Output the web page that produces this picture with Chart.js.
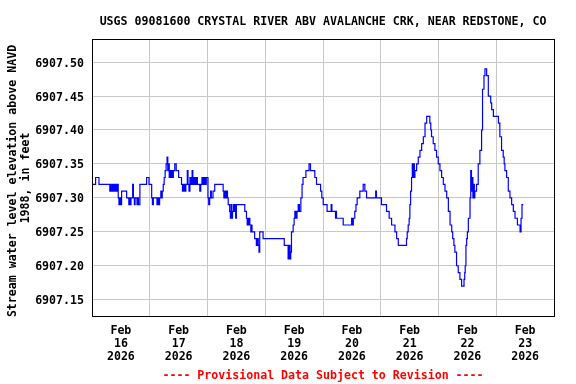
<!DOCTYPE html>
<html>
<head>
<meta charset="utf-8">
<script src="https://cdn.jsdelivr.net/npm/chart.js@4"></script>
<style>
  html, body { margin: 0; padding: 0; background: #ffffff; }
  #wrap { width: 576px; height: 384px; }
</style>
</head>
<body>
<div id="wrap"><canvas id="c" width="576" height="384"></canvas></div>
<script>
// ---- data (hours since Feb 16 2026 00:00, gage elevation in ft) ----
const hours = [
  0, 1.5, 2.9, 7.4, 7.8, 8.3, 8.7, 9.2, 9.6, 10.0, 10.4, 10.9, 11.2, 11.7, 12.0, 12.3,
  14.4, 15.3, 15.6, 15.9, 16.2, 16.9, 17.2, 17.6, 17.9, 18.7, 19.0, 19.3, 19.9, 22.7, 23.7,
  24.8, 25.1, 25.5, 27.0, 27.3, 27.8, 28.1, 28.6, 28.9, 29.2, 29.6, 30.0, 30.4, 30.8, 31.2,
  31.5, 31.8, 32.1, 32.4, 32.7, 33.0, 33.4, 33.8, 34.4, 35.0, 36.0, 37.2, 37.6, 38.0, 38.5,
  39.0, 39.6, 39.9, 40.3, 40.7, 41.1, 41.6, 41.9, 42.3, 42.8, 43.3, 43.8, 44.8, 45.2, 45.7,
  46.2, 46.6, 47.0, 47.5, 48.2, 48.5, 48.9, 49.3, 49.6, 50.3, 51.0, 54.5, 54.8, 55.2, 55.5,
  56.0, 56.3, 56.6, 57.2, 57.5, 57.8, 58.1, 58.4, 58.8, 59.1, 59.4, 59.7, 60.0, 63.5, 64.2,
  64.5, 64.8, 65.1, 65.3, 65.6, 66.0, 66.3, 66.5, 67.6, 68.3, 68.7, 69.1, 69.4, 69.7, 71.1,
  79.9, 81.5, 81.9, 82.3, 82.6, 82.9, 83.6, 84.0, 84.3, 84.8, 85.2, 85.7, 86.2, 86.8, 87.3,
  87.7, 88.9, 90.2, 90.8, 92.6, 93.3, 95.0, 95.5, 96.1, 97.7, 99.4, 99.7, 101.2, 101.4, 101.6,
  104.4, 107.9, 108.2, 108.6, 109.2, 109.7, 110.2, 111.3, 112.7, 113.4, 114.1, 117.9, 118.2,
  120.3, 122.4, 123.5, 124.5, 125.9, 126.6, 127.3, 130.7, 131.0, 131.4, 131.8, 132.1, 132.4,
  132.8, 133.1, 133.5, 133.8, 134.0, 134.2, 134.9, 135.6, 136.3, 137.0, 137.7, 138.4, 139.1,
  140.4, 140.8, 141.1, 141.8, 142.5, 143.2, 143.9, 144.6, 145.3, 146.0, 146.7, 147.4, 148.1,
  148.8, 149.5, 149.9, 150.4, 150.8, 151.5, 152.2, 152.9, 153.6, 154.6, 154.9, 155.1, 155.4,
  155.7, 156.0, 156.4, 157.1, 157.4, 157.7, 158.0, 158.3, 158.6, 158.9, 159.1, 159.8, 160.5,
  161.2, 161.9, 162.3, 162.9, 163.3, 164.0, 164.7, 165.7, 166.1, 166.8, 168.9, 169.5, 170.2,
  170.9, 171.3, 171.6, 172.3, 173.0, 173.7, 174.4, 175.1, 175.8, 176.8, 177.9, 178.3, 178.7,
  179.2
];
const elevation = [
  6907.32, 6907.33, 6907.32, 6907.31, 6907.32, 6907.31, 6907.32, 6907.31, 6907.32, 6907.31, 6907.32, 6907.30, 6907.29, 6907.30, 6907.29, 6907.31,
  6907.30, 6907.29, 6907.30, 6907.29, 6907.30, 6907.32, 6907.30, 6907.29, 6907.30, 6907.29, 6907.30, 6907.29, 6907.32, 6907.33, 6907.32,
  6907.30, 6907.29, 6907.30, 6907.29, 6907.30, 6907.29, 6907.30, 6907.31, 6907.30, 6907.31, 6907.32, 6907.33, 6907.34, 6907.35, 6907.36,
  6907.34, 6907.35, 6907.33, 6907.34, 6907.33, 6907.34, 6907.33, 6907.34, 6907.35, 6907.34, 6907.33, 6907.32, 6907.31, 6907.32, 6907.31,
  6907.32, 6907.34, 6907.32, 6907.31, 6907.33, 6907.32, 6907.34, 6907.32, 6907.33, 6907.32, 6907.33, 6907.32, 6907.31, 6907.32, 6907.33,
  6907.32, 6907.33, 6907.32, 6907.33, 6907.30, 6907.29, 6907.30, 6907.31, 6907.30, 6907.31, 6907.32, 6907.31, 6907.30, 6907.31, 6907.30,
  6907.31, 6907.30, 6907.29, 6907.28, 6907.27, 6907.29, 6907.27, 6907.28, 6907.29, 6907.28, 6907.29, 6907.27, 6907.29, 6907.28, 6907.27,
  6907.26, 6907.27, 6907.26, 6907.27, 6907.26, 6907.25, 6907.26, 6907.25, 6907.24, 6907.23, 6907.24, 6907.23, 6907.22, 6907.25, 6907.24,
  6907.23, 6907.21, 6907.23, 6907.21, 6907.22, 6907.25, 6907.26, 6907.27, 6907.28, 6907.27, 6907.28, 6907.29, 6907.28, 6907.30, 6907.32,
  6907.33, 6907.34, 6907.35, 6907.34, 6907.33, 6907.32, 6907.31, 6907.30, 6907.29, 6907.28, 6907.29, 6907.28, 6907.27, 6907.28, 6907.27,
  6907.26, 6907.27, 6907.26, 6907.27, 6907.28, 6907.29, 6907.30, 6907.31, 6907.32, 6907.31, 6907.30, 6907.31, 6907.30,
  6907.29, 6907.28, 6907.27, 6907.26, 6907.25, 6907.24, 6907.23, 6907.24, 6907.25, 6907.26, 6907.27, 6907.29, 6907.31,
  6907.33, 6907.35, 6907.33, 6907.35, 6907.33, 6907.34, 6907.35, 6907.36, 6907.37, 6907.38, 6907.39, 6907.41, 6907.42,
  6907.41, 6907.40, 6907.39, 6907.38, 6907.37, 6907.36, 6907.35, 6907.34, 6907.33, 6907.32, 6907.31, 6907.30, 6907.28,
  6907.26, 6907.25, 6907.24, 6907.23, 6907.22, 6907.20, 6907.19, 6907.18, 6907.17, 6907.18, 6907.19, 6907.20, 6907.23,
  6907.24, 6907.25, 6907.27, 6907.30, 6907.34, 6907.31, 6907.33, 6907.30, 6907.32, 6907.30, 6907.31, 6907.32, 6907.35,
  6907.37, 6907.40, 6907.46, 6907.48, 6907.49, 6907.48, 6907.45, 6907.44, 6907.43, 6907.42, 6907.41, 6907.39, 6907.37,
  6907.36, 6907.35, 6907.34, 6907.33, 6907.31, 6907.30, 6907.29, 6907.28, 6907.27, 6907.26, 6907.25, 6907.27, 6907.29,
  6907.29
];
const xTickHours = [0, 24, 48, 72, 96, 120, 144, 168, 192];
const xTickLabels = [
  ['Feb', '16', '2026'], ['Feb', '17', '2026'], ['Feb', '18', '2026'], ['Feb', '19', '2026'],
  ['Feb', '20', '2026'], ['Feb', '21', '2026'], ['Feb', '22', '2026'], ['Feb', '23', '2026'], ''
];
const yTicks = [6907.15, 6907.20, 6907.25, 6907.30, 6907.35, 6907.40, 6907.45, 6907.50];
const yMin = 6907.126, yMax = 6907.534;
const chartTitle = 'USGS 09081600 CRYSTAL RIVER ABV AVALANCHE CRK, NEAR REDSTONE, CO';
const yTitle = ['Stream water level elevation above NAVD', '1988, in feet'];
const footer = '---- Provisional Data Subject to Revision ----';

const FONT = '"DejaVu Sans Mono", "Liberation Mono", monospace';
const FSIZE = 11.6;

const textPlugin = {
  id: 'usgsText',
  afterDraw(chart) {
    const ctx = chart.ctx;
    const a = chart.chartArea;
    ctx.save();
    // frame
    ctx.strokeStyle = '#000000';
    ctx.lineWidth = 1;
    ctx.strokeRect(a.left + 0.5, a.top + 0.5, a.right - a.left, a.bottom - a.top);
    ctx.font = 'bold ' + FSIZE + 'px ' + FONT;
    ctx.textBaseline = 'alphabetic';
    ctx.textAlign = 'center';
    const cx = (a.left + a.right) / 2;
    ctx.fillStyle = '#000000';
    ctx.fillText(chartTitle, cx, 24.5);
    ctx.fillStyle = '#ff0000';
    ctx.fillText(footer, cx, 379);
    // y axis title
    ctx.fillStyle = '#000000';
    ctx.save();
    ctx.translate(15.5, 181);
    ctx.rotate(-Math.PI / 2);
    ctx.fillText(yTitle[0], 0, 0);
    ctx.restore();
    ctx.save();
    ctx.translate(28.5, 178);
    ctx.rotate(-Math.PI / 2);
    ctx.fillText(yTitle[1], 0, 0);
    ctx.restore();
    ctx.restore();
  }
};

const tickFont = { family: FONT, weight: 'bold', size: FSIZE, lineHeight: 13 / FSIZE };

new Chart(document.getElementById('c'), {
  type: 'line',
  data: {
    datasets: [{
      data: hours.map((h, i) => ({ x: h, y: elevation[i] })),
      borderColor: '#0000ff',
      borderWidth: 1.2,
      pointRadius: 0,
      fill: false,
      stepped: true,
      tension: 0
    }]
  },
  options: {
    responsive: false,
    animation: false,
    devicePixelRatio: 1,
    layout: { padding: { left: 0, right: 22, top: 39, bottom: 0 } },
    plugins: { legend: { display: false }, tooltip: { enabled: false }, title: { display: false } },
    scales: {
      x: {
        type: 'linear',
        min: 0,
        max: 192,
        afterBuildTicks: s => { s.ticks = xTickHours.map(v => ({ value: v })); },
        afterFit: s => { s.height = 68; },
        grid: { color: '#c8c8c8', lineWidth: 1, drawTicks: false },
        border: { display: false },
        ticks: {
          autoSkip: false, maxRotation: 0, minRotation: 0,
          labelOffset: 28.875, padding: 8,
          color: '#000000', font: tickFont,
          callback: (v, i) => xTickLabels[i]
        }
      },
      y: {
        type: 'linear',
        min: yMin,
        max: yMax,
        afterBuildTicks: s => { s.ticks = yTicks.map(v => ({ value: v })); },
        afterFit: s => { s.width = 92; },
        grid: { color: '#c8c8c8', lineWidth: 1, drawTicks: false },
        border: { display: false },
        ticks: {
          padding: 8, labelOffset: 1.5, color: '#000000', font: tickFont,
          callback: v => v.toFixed(2)
        }
      }
    }
  },
  plugins: [textPlugin]
});
</script>
</body>
</html>
